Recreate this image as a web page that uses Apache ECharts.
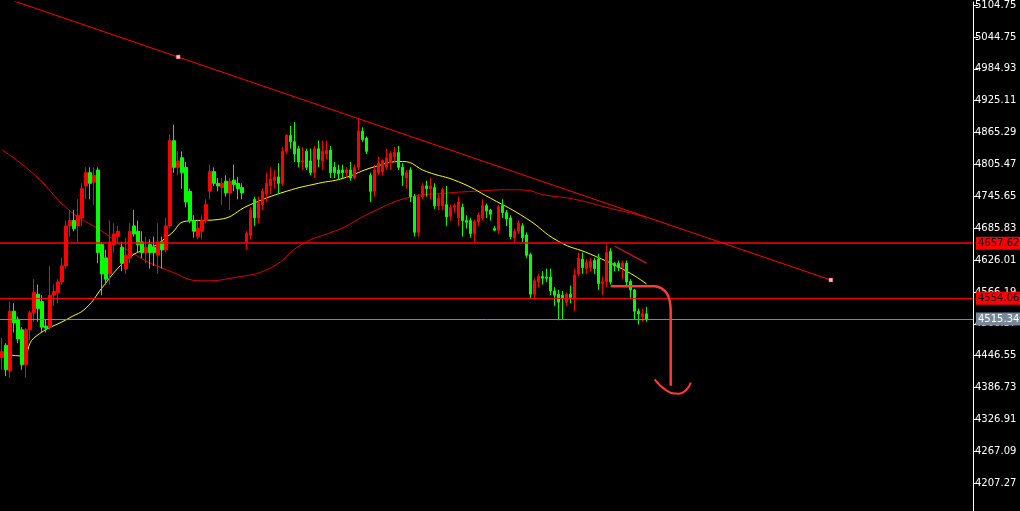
<!DOCTYPE html>
<html>
<head>
<meta charset="utf-8">
<script src="https://cdn.jsdelivr.net/npm/echarts@6/dist/echarts.min.js"></script>
<style>
html,body{margin:0;padding:0;background:#000;}
#chart{width:1020px;height:511px;}
</style>
</head>
<body>
<div id="chart"></div>
<script>
// 价格刻度
var tickLabels = ['4207.27','4267.09','4326.91','4386.73','4446.55','4506.37','4566.19','4626.01',
    '4685.83','4745.65','4805.47','4865.29','4925.11','4984.93','5044.75','5104.75'];

// K线 [open, close, low, high]
var candles = [
[4443,4454,4420,4480],[4466,4420,4408,4470],[4418,4530,4405,4548],[4530,4508,4490,4545],
[4515,4478,4470,4520],[4495,4430,4420,4500],[4430,4495,4405,4498],[4495,4527,4475,4530],
[4527,4565,4510,4590],[4562,4535,4510,4580],[4548,4500,4490,4560],[4502,4498,4490,4515],
[4500,4560,4495,4615],[4560,4567,4540,4580],[4565,4585,4545,4590],[4585,4615,4580,4630],
[4615,4690,4610,4700],[4690,4700,4670,4720],[4700,4685,4680,4720],[4690,4710,4660,4740],
[4705,4760,4690,4770],[4765,4790,4740,4800],[4790,4770,4740,4800],[4772,4785,4730,4800],
[4795,4640,4620,4800],[4655,4600,4560,4660],[4630,4590,4580,4645],[4600,4660,4580,4700],
[4655,4675,4640,4695],[4670,4680,4660,4690],[4650,4620,4605,4660],[4610,4635,4600,4668],
[4630,4680,4620,4695],[4690,4675,4670,4720],[4680,4655,4640,4700],[4660,4640,4630,4680],
[4640,4650,4620,4670],[4655,4640,4610,4665],[4650,4640,4615,4670],[4635,4660,4600,4695],
[4660,4645,4610,4670],[4645,4690,4640,4705],[4690,4850,4685,4862],[4850,4800,4790,4880],
[4800,4812,4785,4830],[4818,4790,4760,4830],[4800,4735,4725,4810],[4755,4700,4695,4760],
[4700,4680,4668,4710],[4670,4685,4665,4700],[4680,4700,4665,4710],[4700,4730,4695,4740],
[4755,4792,4740,4805],[4792,4770,4765,4800],[4770,4765,4755,4780],[4762,4770,4730,4780],
[4774,4752,4745,4785],[4752,4774,4720,4780],[4776,4768,4755,4805],[4770,4760,4740,4782],
[4762,4752,4740,4770],[4660,4676,4646,4680],[4672,4720,4665,4725],[4740,4705,4690,4745],
[4705,4735,4695,4745],[4730,4755,4720,4760],[4750,4770,4735,4790],[4765,4778,4750,4800],
[4775,4782,4760,4795],[4782,4770,4750,4808],[4770,4830,4765,4838],[4830,4860,4825,4862],
[4860,4848,4835,4878],[4848,4825,4810,4885],[4835,4810,4800,4840],[4810,4812,4795,4838],
[4830,4800,4795,4835],[4812,4790,4785,4835],[4790,4835,4780,4840],[4835,4815,4800,4850],
[4812,4830,4795,4850],[4825,4832,4815,4850],[4832,4790,4780,4840],[4800,4790,4780,4810],
[4795,4788,4778,4805],[4795,4790,4780,4805],[4790,4795,4780,4800],[4795,4780,4775,4810],
[4780,4800,4778,4805],[4800,4868,4795,4892],[4868,4852,4848,4875],[4855,4830,4825,4858],
[4785,4755,4735,4790],[4755,4795,4745,4805],[4790,4808,4785,4820],[4792,4813,4785,4815],
[4800,4818,4795,4835],[4808,4826,4795,4830],[4820,4828,4810,4838],[4828,4800,4795,4840],
[4800,4785,4765,4808],[4780,4790,4760,4795],[4795,4745,4735,4800],[4745,4678,4670,4750],
[4678,4745,4670,4750],[4745,4765,4740,4770],[4765,4760,4745,4775],[4760,4765,4740,4780],
[4762,4728,4722,4770],[4728,4742,4720,4750],[4728,4758,4720,4762],[4730,4707,4690,4765],
[4708,4725,4700,4730],[4725,4728,4715,4732],[4705,4735,4690,4745],[4725,4700,4670,4732],
[4700,4697,4685,4710],[4700,4676,4668,4705],[4676,4698,4660,4702],[4698,4710,4690,4715],
[4706,4728,4700,4740],[4728,4718,4705,4732],[4720,4712,4700,4722],[4685,4682,4680,4690],
[4682,4726,4675,4730],[4728,4715,4705,4740],[4715,4703,4690,4720],[4705,4670,4665,4710],
[4668,4680,4660,4685],[4680,4695,4675,4700],[4690,4668,4660,4695],[4673,4635,4630,4678],
[4636,4562,4555,4640],[4562,4587,4555,4592],[4585,4595,4575,4600],[4595,4592,4580,4605],
[4594,4592,4585,4610],[4594,4568,4560,4610],[4568,4560,4540,4575],[4562,4547,4513,4570],
[4560,4555,4515,4568],[4547,4562,4540,4565],[4562,4556,4545,4578],[4555,4598,4530,4610],
[4600,4630,4595,4640],[4628,4612,4600,4640],[4610,4622,4600,4628],[4612,4623,4605,4630],
[4625,4610,4600,4630],[4628,4582,4570,4638],[4582,4585,4560,4595],[4585,4640,4575,4655],
[4642,4585,4580,4648],[4620,4615,4605,4622],[4620,4612,4605,4625],[4612,4620,4590,4625],
[4620,4585,4575,4625],[4586,4570,4555,4590],[4570,4530,4515,4572],[4530,4525,4505,4535],
[4520,4525,4510,4535],[4525,4515.34,4510,4538]
];

// 均线
var maFast = [[0,4450],[5,4446],[8,4480],[17,4518],[21,4536],[25,4574],[29,4611],[33,4637],
    [37,4648],[42,4674],[46,4699],[54,4702],[62,4730],[71,4755],[79,4770],[85,4779],[93,4801],
    [100,4811],[106,4792],[114,4773],[122,4742],[131,4704],[139,4661],[147,4637],[156,4605],[161,4581]];
var maSlow = [[0,4833],[8,4787],[17,4718],[25,4680],[33,4637],[42,4605],[50,4587],[58,4593],
    [67,4611],[75,4656],[83,4680],[85,4686],[93,4718],[102,4744],[110,4751],[118,4755],
    [127,4758],[131,4757],[135,4749],[143,4740],[152,4723],[160,4708],[161,4702]];

// 趋势线 / 画线
var trendLine = [[0,5120],[207,4588.5]];
var trendPoints = [[44.25,5007.2],[207,4588.5]];
var shortLine = [[152.5,4652],[161,4620]];
var handLine = [[151.5,4577],[163.3,4577],[165.75,4564],[166.75,4531],[166.75,4475],[167,4390]];
var handHook = [[163.25,4402],[165.75,4381],[168.75,4375],[171,4383],[171.75,4396]];

// 水平价位
var levelHigh = 4657.62, levelMid = 4554.06, levelLast = 4515.34;

var slots = [];
for (var i = 0; i < 243; i++) slots.push(i);

var chart = echarts.init(document.getElementById('chart'));

function priceTag(v, bg, fg, lineColor, w) {
    return {
        yAxis: v,
        lineStyle: {color: lineColor, width: w, type: 'solid'},
        label: {
            show: true, position: 'end', formatter: v.toFixed(2), distance: 3,
            backgroundColor: bg, color: fg, padding: [2, 2, 1, 2],
            fontSize: 10, fontFamily: 'DejaVu Sans'
        }
    };
}

var option = {
    backgroundColor: '#000',
    animation: false,
    grid: {left: 0, right: 47, top: 0, bottom: 0},
    xAxis: {
        type: 'category', data: slots, boundaryGap: true,
        axisLine: {show: false}, axisTick: {show: false}, axisLabel: {show: false}, splitLine: {show: false}
    },
    yAxis: {
        type: 'value', position: 'right',
        min: 4154.93, max: 5110.36,
        axisLine: {show: true, lineStyle: {color: '#fff', width: 1}},
        axisTick: {show: true, inside: false, length: 5, lineStyle: {color: '#fff'},
            customValues: tickLabels.map(Number)},
        splitLine: {show: false},
        axisLabel: {
            show: true, color: '#fff', fontSize: 10, fontFamily: 'DejaVu Sans', margin: 2,
            customValues: tickLabels.map(Number),
            formatter: function (v) { return v.toFixed(2); }
        }
    },
    series: [
        {
            type: 'line', data: maSlow, smooth: true, symbol: 'none',
            lineStyle: {color: '#e00000', width: 1}, z: 2
        },
        {
            type: 'line', data: maFast, smooth: true, symbol: 'none',
            lineStyle: {color: '#ffff00', width: 1}, z: 2
        },
        {
            type: 'candlestick', data: candles, barWidth: 3, z: 3,
            itemStyle: {color: '#ff0000', color0: '#00ff00', borderColor: '#ff0000', borderColor0: '#00ff00', borderWidth: 1},
            markLine: {
                symbol: 'none', silent: true, animation: false,
                data: [
                    priceTag(levelHigh, '#ff0000', '#000', '#ff0000', 1.5),
                    priceTag(levelMid, '#ff0000', '#000', '#ff0000', 1),
                    priceTag(levelLast, '#778899', '#fff', '#7a8899', 1)
                ]
            }
        },
        {
            type: 'line', data: trendLine, symbol: 'none',
            lineStyle: {color: '#ff0000', width: 1}, z: 4
        },
        {
            type: 'scatter', data: trendPoints, symbol: 'rect', symbolSize: 4,
            itemStyle: {color: '#fff', borderColor: '#ff0000', borderWidth: 0.5}, z: 6
        },
        {
            type: 'line', data: shortLine, symbol: 'none',
            lineStyle: {color: '#b01818', width: 1.5}, z: 4
        },
        {
            type: 'line', data: handLine, smooth: 0.3, symbol: 'none',
            lineStyle: {color: '#ff3a3a', width: 2.5}, z: 5
        },
        {
            type: 'line', data: handHook, smooth: true, symbol: 'none',
            lineStyle: {color: '#ff3a3a', width: 2}, z: 5
        }
    ]
};

chart.setOption(option);
</script>
</body>
</html>
